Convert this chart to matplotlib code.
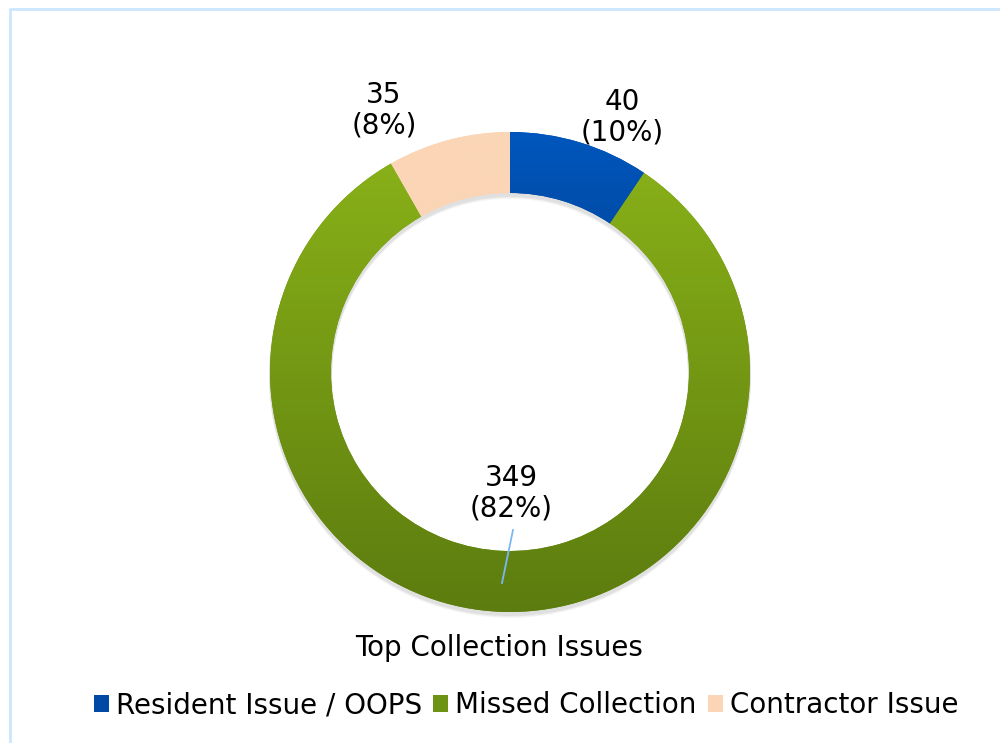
import numpy as np
import matplotlib
matplotlib.use("Agg")
import matplotlib.pyplot as plt
from matplotlib.patches import Patch
from matplotlib.colors import LinearSegmentedColormap

# data
categories = ["Resident Issue / OOPS", "Missed Collection", "Contractor Issue"]
counts = [40, 349, 35]
percents = ["10%", "82%", "8%"]
title = "Top Collection Issues"

# gradient colours (top, bottom) and flat legend colours
grad_top = ["#0057bd", "#88b018", "#fbd6b7"]
grad_bot = ["#003a88", "#5c7c0f", "#fbd4b3"]
legend_cols = ["#004aa5", "#6e9214", "#fbd5b5"]

plt.rcParams['font.family'] = ['DejaVu Sans']

fig = plt.figure(figsize=(10, 7.43), dpi=100)
ax = fig.add_axes([0, 0, 1, 1])

cx, cy, R, W = 510, 371, 240, 61

# soft shadow under the ring
for k, a in enumerate([0.05, 0.04, 0.03]):
    ax.pie([1], colors=["#000000"], radius=R + 1, center=(cx, cy - 3 - k),
           wedgeprops=dict(width=W + 2, alpha=a, linewidth=0), frame=True)

wedges, _ = ax.pie(counts, radius=R, center=(cx, cy), startangle=90,
                   counterclock=False, colors=legend_cols,
                   wedgeprops=dict(width=W, linewidth=0), frame=True)

# vertical gradient fill for each wedge
for i, w in enumerate(wedges):
    verts = w.get_path().vertices
    y0, y1 = verts[:, 1].min(), verts[:, 1].max()
    x0, x1 = verts[:, 0].min(), verts[:, 0].max()
    cmap = LinearSegmentedColormap.from_list("g%d" % i, [grad_bot[i], grad_top[i]])
    grad = np.linspace(0, 1, 256).reshape(-1, 1)
    im = ax.imshow(grad, cmap=cmap, origin='lower', aspect='auto',
                   extent=(x0, x1, y0, y1), zorder=3, interpolation='bilinear')
    im.set_clip_path(w)

ax.set_xlim(0, 1000)
ax.set_ylim(0, 743)
ax.set_aspect('equal')
ax.axis('off')

# data labels
lab_pos = [(622, 626), (511, 250), (384, 633)]
for i in range(len(counts)):
    ax.text(lab_pos[i][0], lab_pos[i][1], "%d\n(%s)" % (counts[i], percents[i]),
            ha='center', va='center', fontsize=20, linespacing=1.1, zorder=5)

# leader line for the big slice
ax.plot([513, 502], [213, 160], color="#7ab8f5", lw=1.3, zorder=6)

ax.text(499, 95, title, ha='center', va='center', fontsize=20)

handles = [Patch(facecolor=c, edgecolor='none') for c in legend_cols]
fig.legend(handles, categories, loc='center', bbox_to_anchor=(0.526, 0.051),
           ncol=3, frameon=False, fontsize=20, handlelength=0.55, handleheight=0.55,
           handletextpad=0.25, columnspacing=0.4)

# light blue frame on top and left
ax.plot([10, 10], [0, 734], color="#cce6ff", lw=2, zorder=1, solid_capstyle='butt')
ax.plot([9, 1000], [734, 734], color="#cce6ff", lw=2, zorder=1, solid_capstyle='butt')

fig.savefig("out.png", dpi=100)
